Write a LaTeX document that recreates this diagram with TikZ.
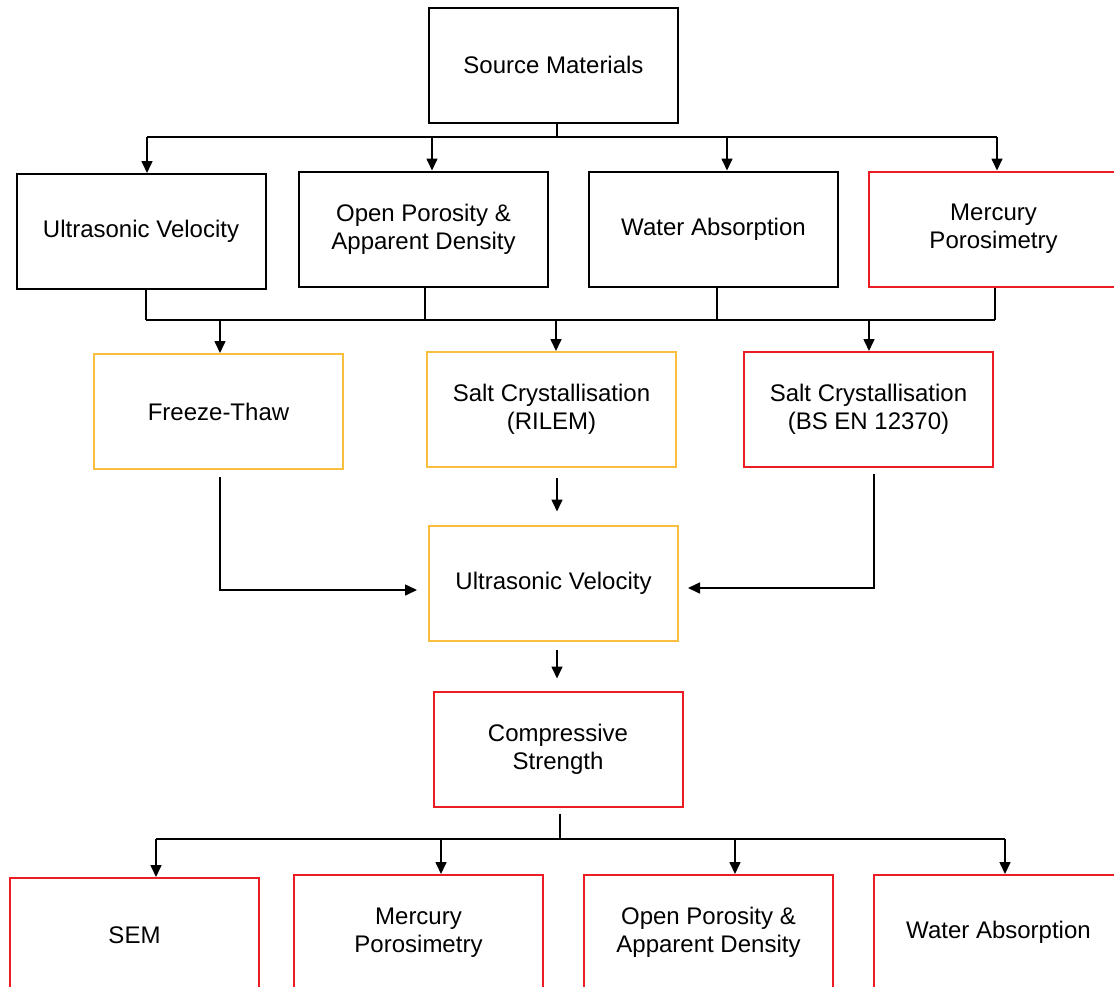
\documentclass[tikz,border=0pt]{standalone}
\usepackage{fontspec}
\setmainfont{Liberation Sans}
\usetikzlibrary{arrows.meta}
\definecolor{BoxOrange}{HTML}{F9BE3E}
\definecolor{BoxRed}{HTML}{EC1C24}
\tikzset{
  stage/.style={draw,line width=1pt,minimum width=124.5pt,minimum height=57.5pt,
    inner sep=2pt,align=center,font=\fontsize{12}{14}\selectfont},
  flow/.style={-{Triangle[length=6pt,width=5.5pt]},line width=0.8pt},
  link/.style={line width=0.8pt}
}
\begin{document}
\begin{tikzpicture}[x=0.5pt,y=-0.5pt]
  \useasboundingbox (0,0) rectangle (1114,986);
  % top
  \node[stage] (src) at (553.5,65) {Source Materials};
  % first tests
  \node[stage] (uvA) at (141,231.5) {Ultrasonic Velocity};
  \node[stage] (opA) at (423.5,229) {Open Porosity \&\\Apparent Density};
  \node[stage] (waA) at (713.5,229) {Water Absorption};
  \node[stage,BoxRed,text=black] (mpA) at (993.5,229) {Mercury\\Porosimetry};
  % weathering
  \node[stage,BoxOrange,text=black] (ft) at (218.5,411.5) {Freeze-Thaw};
  \node[stage,BoxOrange,text=black] (rilem) at (551.5,409.5) {Salt Crystallisation\\(RILEM)};
  \node[stage,BoxRed,text=black] (bsen) at (868.5,409.5) {Salt Crystallisation\\(BS EN 12370)};
  \node[stage,BoxOrange,text=black] (uvB) at (553.5,583) {Ultrasonic Velocity};
  \node[stage,BoxRed,text=black] (cs) at (558,749) {Compressive\\Strength};
  % final tests
  \node[stage,BoxRed,text=black] (sem) at (134.5,935.5) {SEM};
  \node[stage,BoxRed,text=black] (mpB) at (418.5,932.5) {Mercury\\Porosimetry};
  \node[stage,BoxRed,text=black] (opB) at (708.5,932.5) {Open Porosity \&\\Apparent Density};
  \node[stage,BoxRed,text=black] (waB) at (998.5,932.5) {Water Absorption};

  % source -> first tests
  \coordinate (jA) at (557,137);
  \draw[link] (src.south -| jA) -- (jA);
  \coordinate (jA1) at (147,137);
  \coordinate (jA4) at (997,137);
  \draw[link] (jA1) -- (jA4);
  \foreach \n/\x in {uvA/147,opA/432,waA/727,mpA/997}{
    \coordinate (j) at (\x,137);
    \draw[flow] (j) -- (j |- \n.north);
  }

  % first tests -> weathering
  \coordinate (jB) at (557,320);
  \foreach \n/\dx in {uvA/2.5pt,opA/0.75pt,waA/1.75pt,mpA/0.75pt}
    \draw[link] ([xshift=\dx]\n.south) -- ([xshift=\dx]\n.south |- jB);
  \draw[link] ([xshift=2.5pt]uvA.south |- jB) -- ([xshift=0.75pt]mpA.south |- jB);
  \foreach \n/\x in {ft/220,rilem/556,bsen/869}{
    \coordinate (j) at (\x,320);
    \draw[flow] (j) -- (j |- \n.north);
  }

  % weathering -> ultrasonic velocity
  \coordinate (mB) at (557,478);
  \draw[flow] (mB) -- ([yshift=6.5pt]mB |- uvB.north);
  \draw[flow] ([xshift=0.75pt,yshift=-3.5pt]ft.south)
    |- ([xshift=-5.5pt,yshift=-3.5pt]uvB.west);
  \draw[flow] ([xshift=2.75pt,yshift=-3pt]bsen.south)
    |- ([xshift=4.5pt,yshift=-2.5pt]uvB.east);
  \draw[flow] ([xshift=1.75pt,yshift=-4pt]uvB.south)
    -- ([xshift=1.75pt,yshift=6pt]uvB.south |- cs.north);

  % compressive strength -> final tests
  \coordinate (jC) at (560,839);
  \draw[link] ([xshift=1pt,yshift=-3pt]cs.south) -- (jC);
  \coordinate (jC1) at (156,839);
  \coordinate (jC4) at (1005,839);
  \draw[link] (jC1) -- (jC4);
  \foreach \n/\x in {sem/156,mpB/441,opB/735,waB/1005}{
    \coordinate (j) at (\x,839);
    \draw[flow] (j) -- (j |- \n.north);
  }
\end{tikzpicture}
\end{document}
